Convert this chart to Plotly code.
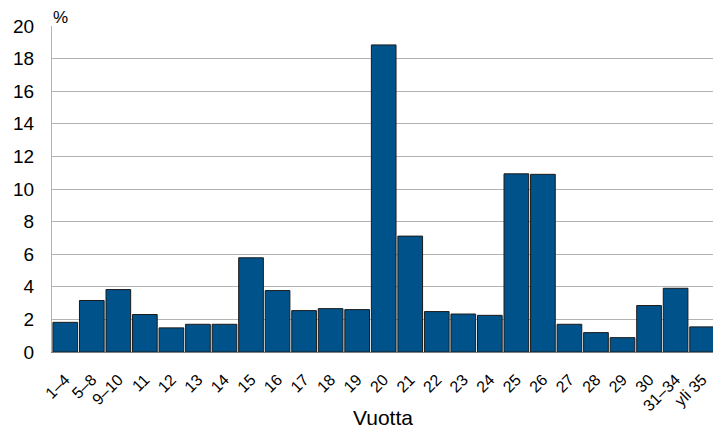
import plotly.graph_objects as go

categories = ["1–4", "5–8", "9–10", "11", "12", "13", "14", "15", "16", "17", "18", "19",
              "20", "21", "22", "23", "24", "25", "26", "27", "28", "29", "30", "31–34", "yli 35"]
values = [1.82, 3.16, 3.83, 2.30, 1.48, 1.70, 1.70, 5.78, 3.77, 2.54, 2.66, 2.60,
          18.84, 7.11, 2.48, 2.33, 2.25, 10.93, 10.90, 1.70, 1.19, 0.88, 2.85, 3.91, 1.54]
y_ticks = [0, 2, 4, 6, 8, 10, 12, 14, 16, 18, 20]

fig = go.Figure()
fig.add_trace(go.Bar(
    x=list(range(len(categories))), y=values,
    marker=dict(color="#00538a", line=dict(color="#1a1a1a", width=1)),
    width=0.93,
))

fig.update_layout(
    width=713, height=430,
    margin=dict(l=52, r=0, t=26, b=78),
    plot_bgcolor="white", paper_bgcolor="white",
    font=dict(family="Liberation Sans, Arial, sans-serif", color="#000000"),
    showlegend=False,
    bargap=0.07,
    xaxis=dict(
        tickmode="array", tickvals=list(range(len(categories))), ticktext=categories,
        tickangle=-45, tickfont=dict(size=16),
        range=[-0.5, 24.41], automargin=False,
        showgrid=False, showline=True, linecolor="#808080", linewidth=1,
        ticks="", zeroline=False, ticklabelstandoff=11,
    ),
    yaxis=dict(
        range=[0, 20], tickvals=y_ticks, tickfont=dict(size=19),
        automargin=False,
        showgrid=True, gridcolor="#b3b3b3", gridwidth=1,
        showline=True, linecolor="#b3b3b3", linewidth=1,
        zeroline=False, ticks="", ticklen=0, ticklabelstandoff=13,
    ),
    annotations=[
        dict(text="%", xref="paper", yref="paper", x=0, y=1.0,
             xanchor="left", yanchor="bottom", showarrow=False,
             font=dict(size=17), yshift=-3, xshift=-1),
        dict(text="Vuotta", xref="paper", yref="paper", x=0.5, y=0,
             xanchor="center", yanchor="middle", showarrow=False,
             font=dict(size=21), yshift=-65),
    ],
)

fig.write_html("out.html", config={"displayModeBar": False},
               post_script="document.body.style.margin='0';document.body.style.overflow='hidden';")
